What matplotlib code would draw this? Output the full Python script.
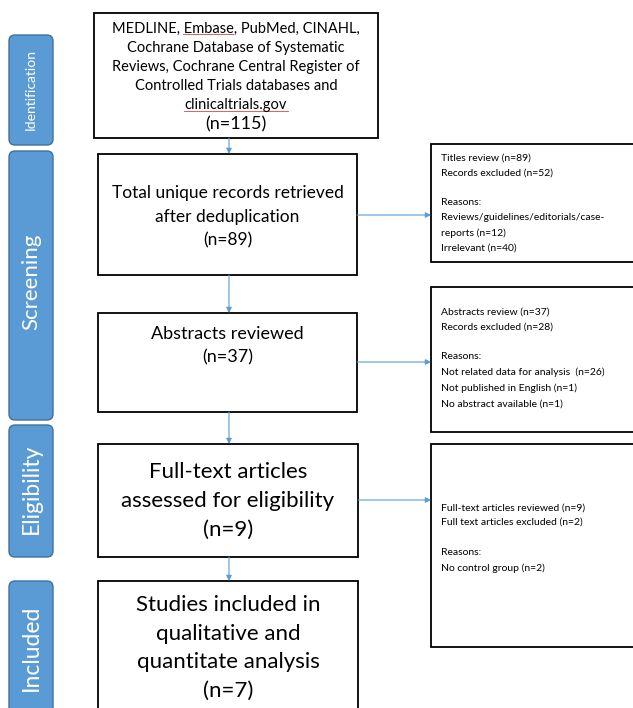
import matplotlib.pyplot as plt
from matplotlib.patches import FancyBboxPatch, Rectangle

plt.rcParams['font.family'] = ['Lato', 'DejaVu Sans']

# stage labels down the left side
stages = ['Identification', 'Screening', 'Eligibility', 'Included']

# main flow boxes (text)
main_texts = [
    'MEDLINE, Embase, PubMed, CINAHL,\nCochrane Database of Systematic\n'
    'Reviews, Cochrane Central Register of\nControlled Trials databases and\n'
    'clinicaltrials.gov',
    'Total unique records retrieved\nafter deduplication',
    'Abstracts reviewed',
    'Full-text articles\nassessed for eligibility',
    'Studies included in\nqualitative and\nquantitate analysis',
]
main_counts = [115, 89, 37, 9, 7]

# exclusion boxes on the right
side_texts = [
    'Titles review (n=89)\nRecords excluded (n=52)\n\nReasons:\n'
    'Reviews/guidelines/editorials/case-\nreports (n=12)\nIrrelevant (n=40)',
    'Abstracts review (n=37)\nRecords excluded (n=28)\n\nReasons:\n'
    'Not related data for analysis  (n=26)\nNot published in English (n=1)\n'
    'No abstract available (n=1)',
    'Full-text articles reviewed (n=9)\nFull text articles excluded (n=2)\n\n'
    'Reasons:\nNo control group (n=2)',
]

fig = plt.figure(figsize=(6.33, 7.08), dpi=100)
ax = fig.add_axes([0, 0, 1, 1])
ax.set_xlim(0, 633)
ax.set_ylim(708, 0)
ax.axis('off')

blue = '#5b9bd5'
edge_blue = '#41719c'

# layout (pixels)
stage_y = [(35, 145), (151, 420), (425, 557), (581, 730)]
stage_fs = [10, 16, 16.5, 16.5]
stage_tc = [90, 282, 489, 648]
main_boxes = [(94, 13, 378, 138), (98, 154, 357, 275), (98, 313, 357, 412),
              (98, 444, 358, 557), (98, 581, 358, 730)]
main_fs = [10.5, 12.5, 13, 16, 16]
main_ls = [1.45, 1.6, 1.55, 1.55, 1.55]
main_tc = [76, 217, 346, 501, 648]
side_boxes = [(431, 144, 640, 262), (431, 287, 640, 432), (431, 444, 640, 647)]
side_tc = [203, 358, 538]
arrow_y = [215, 362, 500]

for name, (y0, y1), fs, tc in zip(stages, stage_y, stage_fs, stage_tc):
    ax.add_patch(FancyBboxPatch((9 + 4, y0 + 4), 44 - 8, y1 - y0 - 8,
                                boxstyle='round,pad=4,rounding_size=6',
                                fc=blue, ec=edge_blue, lw=1))
    ax.text(31, tc, name, rotation=90, color='white',
            ha='center', va='center', fontsize=fs)

for i, (txt, n, (x0, y0, x1, y1)) in enumerate(zip(main_texts, main_counts, main_boxes)):
    ax.add_patch(Rectangle((x0, y0), x1 - x0, y1 - y0, fc='white', ec='black', lw=1.3))
    if i == 0:
        ax.text((x0 + x1) / 2, main_tc[i] - 9, txt, ha='center', va='center',
                fontsize=main_fs[i], linespacing=main_ls[i])
        ax.text((x0 + x1) / 2, 124, '(n=%d)' % n, ha='center', va='center', fontsize=13)
    else:
        ax.text((x0 + x1) / 2, main_tc[i], txt + '\n(n=%d)' % n, ha='center', va='center',
                fontsize=main_fs[i], linespacing=main_ls[i])

# spell-check squiggles under "Embase" and "clinicaltrials.gov"
ax.plot([183, 233], [34, 34], color='#e06060', lw=0.7)
ax.plot([184, 288], [111, 111], color='#e06060', lw=0.7)

for txt, (x0, y0, x1, y1), tc in zip(side_texts, side_boxes, side_tc):
    ax.add_patch(Rectangle((x0, y0), x1 - x0, y1 - y0, fc='white', ec='black', lw=1.3))
    ax.text(x0 + 10, tc, txt, ha='left', va='center', fontsize=7.5, linespacing=1.85)

# vertical arrows between main boxes
ax_x = 229
for (a, b) in zip(main_boxes[:-1], main_boxes[1:]):
    ax.annotate('', xy=(ax_x, b[1]), xytext=(ax_x, a[3]),
                arrowprops=dict(arrowstyle='-|>', color=blue, lw=0.8,
                                mutation_scale=8, shrinkA=0, shrinkB=0))

# horizontal arrows to exclusion boxes
for (bx, sb, ay) in zip(main_boxes[1:4], side_boxes, arrow_y):
    ax.annotate('', xy=(sb[0], ay), xytext=(bx[2], ay),
                arrowprops=dict(arrowstyle='-|>', color=blue, lw=0.8,
                                mutation_scale=8, shrinkA=0, shrinkB=0))

fig.savefig('out.png', dpi=100)
